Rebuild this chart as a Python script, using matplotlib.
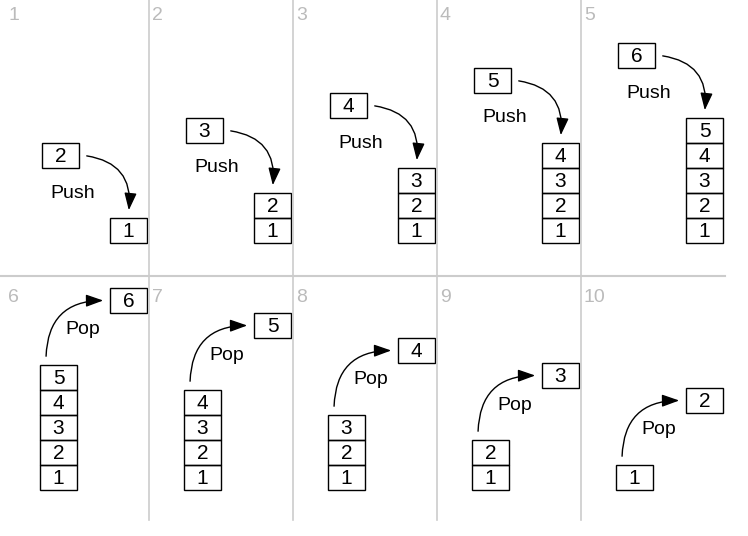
import matplotlib
matplotlib.use("Agg")
import matplotlib.pyplot as plt
from matplotlib.patches import Rectangle, FancyArrowPatch

plt.rcParams['font.family'] = ['Liberation Sans', 'DejaVu Sans']

step_labels = ["1","2","3","4","5","6","7","8","9","10"]
push_stacks = [[1],[1,2],[1,2,3],[1,2,3,4],[1,2,3,4,5]]
push_new = [2,3,4,5,6]
pop_stacks = [[1,2,3,4,5],[1,2,3,4],[1,2,3],[1,2],[1]]
pop_out = [6,5,4,3,2]

W, H = 748, 536
fig = plt.figure(figsize=(W/100, H/100), dpi=100)
ax = fig.add_axes([0,0,1,1])
ax.set_xlim(0, W); ax.set_ylim(H, 0); ax.axis("off")

BW, BH = 37, 25
gray = "#cccccc"
for x in [149, 293, 437, 581]:
    ax.plot([x, x], [0, 520], color=gray, lw=1.2)
ax.plot([0, 725], [276, 276], color=gray, lw=1.5)

def box(x, y, v):
    ax.add_patch(Rectangle((x, y), BW, BH, fill=False, ec="black", lw=1))
    ax.text(x+BW/2, y+BH/2+1, str(v), ha="center", va="center", fontsize=15)

def arrow(p1, p2, rad):
    ax.add_patch(FancyArrowPatch(p1, p2, connectionstyle=f"arc3,rad={rad}",
                 arrowstyle="-|>,head_length=7,head_width=2.5", color="black", lw=1, mutation_scale=1.5))

for i in range(5):
    left = 144*i
    ax.text(left+8, 15, step_labels[i], color="#bbbbbb", fontsize=14, va="center")
    sx = left+110
    for j, v in enumerate(push_stacks[i]):
        box(sx, 218-25*j, v)
    top = 218-25*(len(push_stacks[i])-1)
    nx, ny = left+42, top-75
    box(nx, ny, push_new[i])
    ax.text(nx+8, ny+50, "Push", ha="left", va="center", fontsize=14)
    arrow((nx+BW+5, ny+BH/2), (sx+BW/2, top-5), -0.5)

for i in range(5):
    left = 144*i
    ax.text(left+8, 297, step_labels[5+i], color="#bbbbbb", fontsize=14, va="center")
    sx = left+40
    for j, v in enumerate(pop_stacks[i]):
        box(sx, 465-25*j, v)
    top = 465-25*(len(pop_stacks[i])-1)
    nx, ny = left+110, top-77
    box(nx, ny, pop_out[i])
    ax.text(sx+25, ny+42, "Pop", ha="left", va="center", fontsize=14)
    arrow((sx+6, top-6), (nx-4, ny+BH/2), -0.5)

fig.savefig("out.png", dpi=100, facecolor="white")
